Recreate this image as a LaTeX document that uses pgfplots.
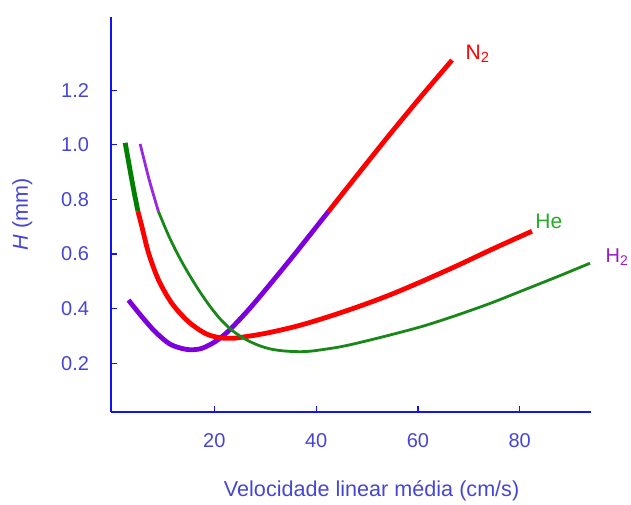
\documentclass[border=0pt]{standalone}
\usepackage{fontspec}
\setmainfont{Liberation Sans}
\usepackage{pgfplots}
\pgfplotsset{compat=1.18}
\definecolor{axisblue}{RGB}{20,20,240}
\definecolor{labelblue}{RGB}{70,70,210}
\definecolor{vdpurple}{RGB}{125,0,220}
\definecolor{vdred}{RGB}{255,0,0}
\definecolor{vdgreen}{RGB}{0,128,0}
\definecolor{thingreen}{RGB}{25,135,25}
\definecolor{thinpurple}{RGB}{150,40,230}
\definecolor{hegreen}{RGB}{40,170,40}
\definecolor{htwopurple}{RGB}{150,30,200}

\begin{document}
\begin{tikzpicture}
\begin{axis}[
    at={(0,0)}, anchor=south west,
    width=240pt, height=197.5pt, scale only axis,
    xmin=-0.3, xmax=94, ymin=0.021, ymax=1.468,
    axis lines*=left,
    axis line style={axisblue, line width=0.6pt},
    tick style={axisblue, line width=0.6pt},
    tick align=inside, major tick length=3pt,
    xtick={20,40,60,80},
    ytick={0.2,0.4,0.6,0.8,1.0,1.2},
    /pgf/number format/assume math mode=true,
    tick label style={font=\fontsize{10}{11}\selectfont, text=labelblue},
    yticklabel style={xshift=-7.5pt, /pgf/number format/fixed,
        /pgf/number format/fixed zerofill, /pgf/number format/precision=1},
    xticklabel style={yshift=-7pt},
    xlabel={Velocidade linear média (cm/s)},
    ylabel={\textit{H} (mm)},
    label style={font=\fontsize{10.8}{12}\selectfont, text=labelblue},
    xlabel style={at={(axis description cs:0.543,-0.2)}, anchor=center},
    ylabel style={at={(axis description cs:-0.185,0.5)}, anchor=center},
    clip=false,
]
% N2: purple part, then red part
\addplot[vdpurple, line width=2.4pt, smooth] coordinates {
    (3.14,0.431) (5.77,0.370) (8.38,0.315) (11.0,0.273) (13.0,0.257)
    (15.2,0.249) (17.5,0.254) (20.2,0.279) (22.8,0.318) (26.7,0.395)
    (30.6,0.481) (35.9,0.602) (42.4,0.755)
};
\addplot[vdred, line width=2.4pt, smooth] coordinates {
    (42.4,0.755) (48.3,0.894) (54.3,1.034) (60.4,1.172) (66.7,1.310)
};
% He: green start, then red
\addplot[vdgreen, line width=2.4pt, smooth] coordinates {
    (2.49,1.007) (3.3,0.922) (4.1,0.840) (4.98,0.757)
};
\addplot[vdred, line width=2.4pt, smooth] coordinates {
    (4.98,0.757) (5.77,0.700) (7.07,0.604) (9.03,0.505) (11.66,0.419)
    (14.9,0.352) (18.2,0.309) (20.8,0.294) (22.8,0.291) (24.7,0.293)
    (30.0,0.309) (35.9,0.334) (41.4,0.364) (48.0,0.405) (54.5,0.450)
    (61.1,0.502) (67.7,0.557) (74.2,0.614) (80.7,0.669) (82.4,0.683)
};
% H2: thin purple start, then thin green
\addplot[thinpurple, line width=1.4pt, smooth] coordinates {
    (5.43,1.003) (7.2,0.872) (9.03,0.755)
};
\addplot[thingreen, line width=1.4pt, smooth] coordinates {
    (9.03,0.755) (11.0,0.668) (13.0,0.592) (15.0,0.526) (17.0,0.466)
    (19.0,0.412) (21.0,0.365) (23.1,0.326) (25.0,0.300) (27.0,0.279)
    (29.0,0.263) (31.0,0.252) (33.0,0.246) (35.0,0.243) (37.0,0.242)
    (39.0,0.244) (41.4,0.250) (44.5,0.259) (48.0,0.273) (54.5,0.303)
    (61.1,0.336) (67.7,0.376) (74.2,0.419) (80.7,0.467) (87.3,0.516)
    (93.8,0.566)
};
\node[anchor=base west, inner sep=0pt, text=vdred, font=\fontsize{10.5}{12}\selectfont]
    at (axis cs:69.3,1.313) {N\textsubscript{2}};
\node[anchor=base west, inner sep=0pt, text=hegreen, font=\fontsize{10.5}{12}\selectfont]
    at (axis cs:83.0,0.694) {He};
\node[anchor=base west, inner sep=0pt, text=htwopurple, font=\fontsize{10}{12}\selectfont]
    at (axis cs:96.8,0.570) {H\textsubscript{2}};
\end{axis}
\pgfresetboundingbox
\path (-55.5pt,-46pt) rectangle (260pt,206pt);
\end{tikzpicture}
\end{document}
